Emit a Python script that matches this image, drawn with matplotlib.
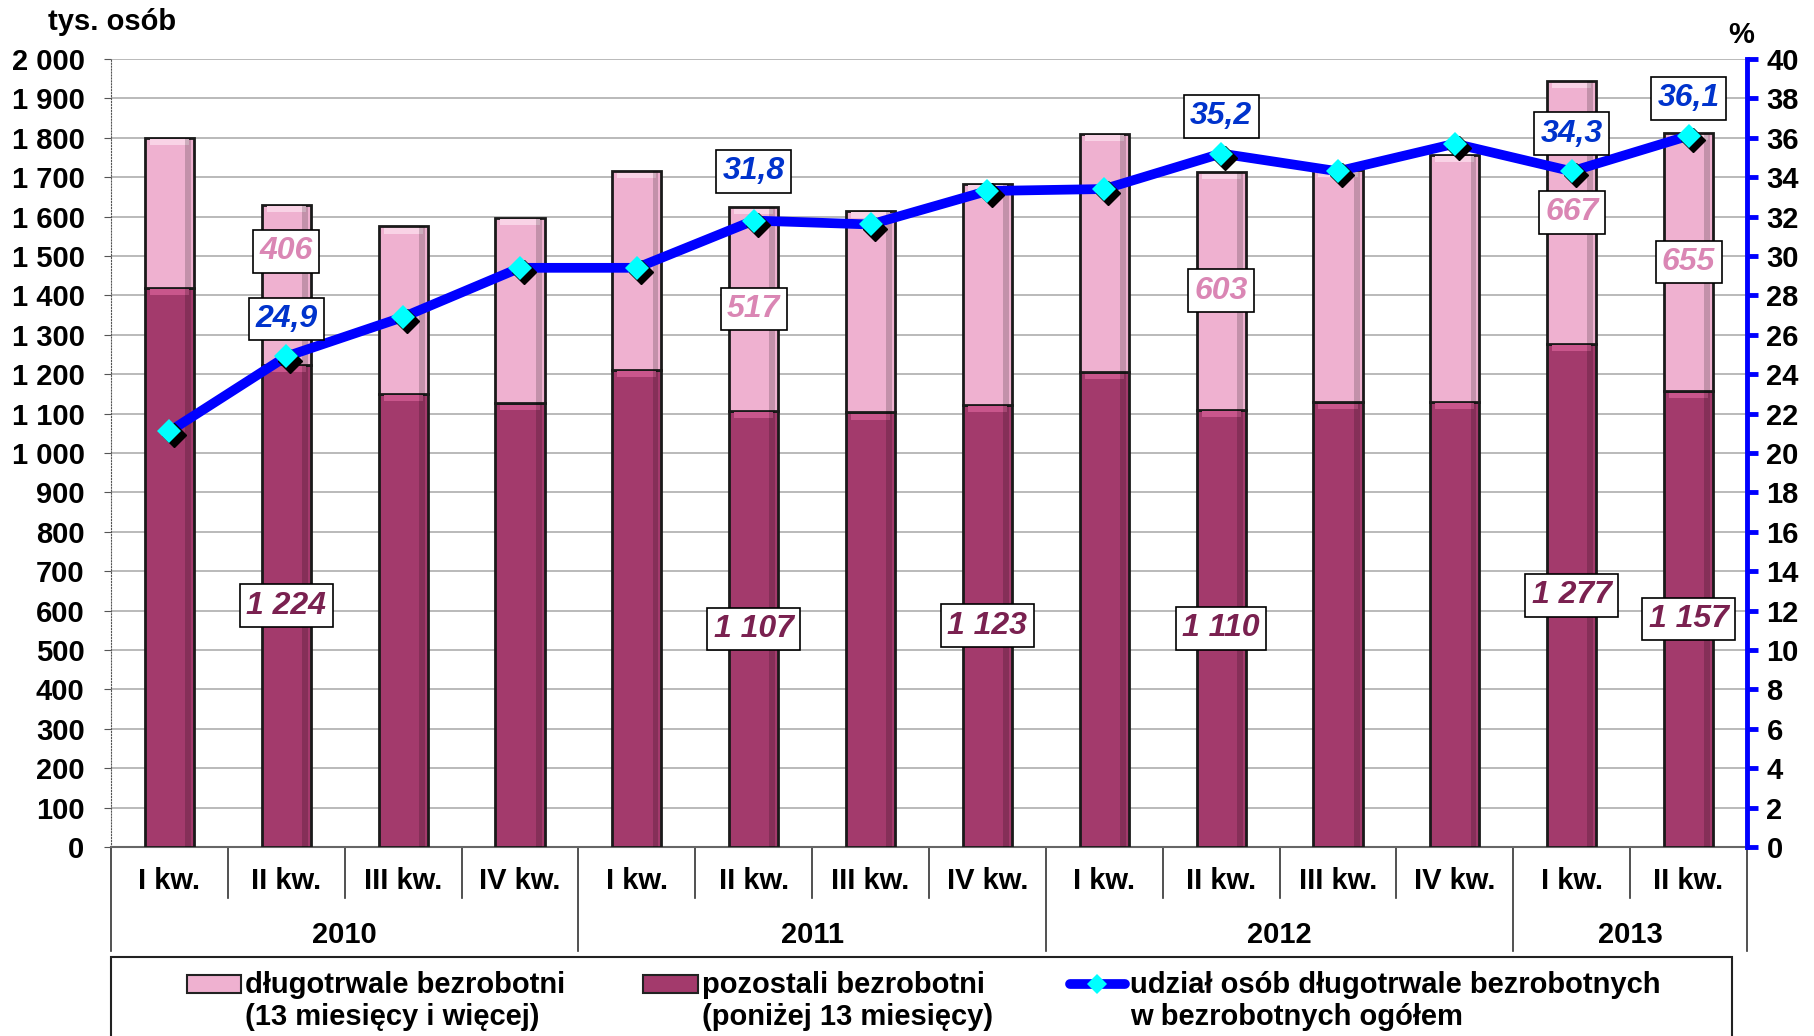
import matplotlib
matplotlib.use("Agg")
import matplotlib.pyplot as plt
from matplotlib.patches import Rectangle
from matplotlib.lines import Line2D
from matplotlib.ticker import FuncFormatter, MultipleLocator
from matplotlib.transforms import offset_copy

plt.rcParams['font.family'] = ['Liberation Sans', 'DejaVu Sans']
plt.rcParams['font.weight'] = 'bold'

# dane (tys. osób, %)
quarters = ['I kw.', 'II kw.', 'III kw.', 'IV kw.',
            'I kw.', 'II kw.', 'III kw.', 'IV kw.',
            'I kw.', 'II kw.', 'III kw.', 'IV kw.',
            'I kw.', 'II kw.']
years = ['2010', '2011', '2012', '2013']
year_len = [4, 4, 4, 2]
pozostali = [1420, 1224, 1151, 1127, 1211, 1107, 1103, 1123, 1205, 1110, 1129, 1130, 1277, 1157]
dlugotrwale = [380, 406, 424, 470, 504, 517, 512, 560, 605, 603, 589, 627, 667, 655]
udzial = [21.1, 24.9, 26.9, 29.4, 29.4, 31.8, 31.6, 33.3, 33.4, 35.2, 34.3, 35.7, 34.3, 36.1]

# which points get value labels
lab_dl = [1, 5, 9, 12, 13]
lab_poz = [1, 5, 7, 9, 12, 13]
lab_ud = [1, 5, 9, 12, 13]

PINK = '#EFB1D0'
DARK = '#A33A6C'
PINK_TXT = '#DA86B4'
DARK_TXT = '#7A2150'
BLUE_TXT = '#0033CC'
FS = 21
LFS = 23

W, H = 1814, 1036
fig = plt.figure(figsize=(W / 100, H / 100), dpi=100)
ax = fig.add_axes([111 / W, 1 - 847 / H, (1747 - 111) / W, (847 - 59) / H])

x = list(range(len(quarters)))
bw = 0.42
ax.bar(x, pozostali, width=bw, color=DARK, edgecolor='#1a1a1a', linewidth=2, zorder=3)
ax.bar(x, dlugotrwale, width=bw, bottom=pozostali, color=PINK, edgecolor='#1a1a1a',
       linewidth=2, zorder=3)
# simple bevel: lighter strip at the top, darker strip on the right side of each segment
tops = [p + d for p, d in zip(pozostali, dlugotrwale)]
ax.bar(x, [14] * len(x), width=bw * 0.8, bottom=[t - 18 for t in tops], color='#F9D3E6',
       linewidth=0, zorder=4)
ax.bar(x, [14] * len(x), width=bw * 0.8, bottom=[p - 18 for p in pozostali], color='#C9568C',
       linewidth=0, zorder=4)
ax.bar([i + bw * 0.38 for i in x], tops, width=bw * 0.12, color='black', alpha=0.18,
       linewidth=0, zorder=4)

ax.set_xlim(-0.5, len(x) - 0.5)
ax.set_ylim(0, 2000)
ax.yaxis.set_major_locator(MultipleLocator(100))
ax.yaxis.set_major_formatter(FuncFormatter(lambda v, p: f'{int(v):,}'.replace(',', ' ')))
ax.grid(axis='y', color='#B4B4B4', linewidth=1.3, zorder=0)
ax.set_axisbelow(True)
ax.tick_params(axis='y', labelsize=FS, length=5, color='#555555', pad=14)
for t in ax.get_yticklabels():
    t.set_fontweight('bold')
ax.set_xticks([])
ax.spines['left'].set_linestyle(':')
ax.spines['left'].set_color('#555555')
ax.spines['top'].set_visible(False)
ax.spines['right'].set_visible(False)
ax.spines['bottom'].set_color('#666666')
ax.spines['bottom'].set_linewidth(1.5)

# category axis with quarters and years
xt = ax.get_xaxis_transform()
for i, q in enumerate(quarters):
    ax.text(i, -0.043, q, transform=xt, ha='center', va='center', fontsize=FS,
            fontweight='bold')
bounds = [-0.5]
for n in year_len:
    bounds.append(bounds[-1] + n)
for b in [i - 0.5 for i in range(len(x) + 1)]:
    low = -0.132 if b in bounds else -0.0647
    ax.plot([b, b], [0, low], transform=xt, color='#333333', linewidth=1.2, clip_on=False)
for j, yr in enumerate(years):
    ax.text((bounds[j] + bounds[j + 1]) / 2, -0.112, yr, transform=xt, ha='center',
            va='center', fontsize=FS, fontweight='bold')

# share line on right axis
ax2 = ax.twinx()
ax2.set_ylim(0, 40)
ax2.yaxis.set_major_locator(MultipleLocator(2))
ax2.plot(x, udzial, color='#0000FF', linewidth=7, zorder=5, solid_joinstyle='round')
shadow = offset_copy(ax2.transData, fig=fig, x=3, y=-3, units='points')
ax2.plot(x, udzial, linestyle='none', marker='D', markersize=12, color='black',
         transform=shadow, zorder=6)
ax2.plot(x, udzial, linestyle='none', marker='D', markersize=12, color='#00FFFF',
         markeredgewidth=0, zorder=7)
for s in ['left', 'top', 'bottom']:
    ax2.spines[s].set_visible(False)
ax2.spines['right'].set_color('#0000FF')
ax2.spines['right'].set_linewidth(3.5)
ax2.tick_params(axis='y', direction='out', length=8, width=3.5, color='#0000FF',
                labelsize=FS, pad=6)
for t in ax2.get_yticklabels():
    t.set_fontweight('bold')

box = dict(boxstyle='square,pad=0.2', fc='white', ec='black', lw=1.2)
ud_off = {1: 1.9, 5: 2.5, 9: 1.9, 12: 1.9, 13: 1.9}
for i in lab_ud:
    ax2.text(i, udzial[i] + ud_off[i], f'{udzial[i]:.1f}'.replace('.', ','), ha='center',
             va='center', fontsize=LFS, fontweight='bold', style='italic', color=BLUE_TXT,
             bbox=box, zorder=9)
dl_off = {1: 85}
for i in lab_dl:
    yv = pozostali[i] + dlugotrwale[i] / 2 + dl_off.get(i, 0)
    ax.text(i, yv, str(dlugotrwale[i]), ha='center', va='center', fontsize=LFS,
            fontweight='bold', style='italic', color=PINK_TXT, bbox=box, zorder=8)
for i in lab_poz:
    ax.text(i, pozostali[i] / 2, f'{pozostali[i]:,}'.replace(',', ' '), ha='center',
            va='center', fontsize=LFS, fontweight='bold', style='italic', color=DARK_TXT,
            bbox=box, zorder=8)

fig.text(48 / W, 1 - 22 / H, 'tys. osób', ha='left', va='center', fontsize=FS,
         fontweight='bold')
fig.text(1741 / W, 1 - 35 / H, '%', ha='center', va='center', fontsize=FS,
         fontweight='bold')

# legend drawn in figure pixels
def fx(px):
    return px / W


def fy(py):
    return 1 - py / H


tf = fig.transFigure
fig.add_artist(Rectangle((fx(111), fy(1040)), fx(1732) - fx(111), fy(957) - fy(1040),
                         transform=tf, fc='white', ec='#222222', lw=1.5))
fig.add_artist(Rectangle((fx(187), fy(993)), fx(241) - fx(187), fy(975) - fy(993),
                         transform=tf, fc=PINK, ec='#222222', lw=1.5))
fig.add_artist(Rectangle((fx(643), fy(993)), fx(698) - fx(643), fy(975) - fy(993),
                         transform=tf, fc=DARK, ec='#222222', lw=1.5))
fig.add_artist(Line2D([fx(1070), fx(1125)], [fy(984), fy(984)], transform=tf,
                      color='#0000FF', linewidth=7, solid_capstyle='round'))
fig.add_artist(Line2D([fx(1097)], [fy(984)], transform=tf, marker='D', markersize=10,
                      color='#00FFFF', markeredgewidth=0))
leg_texts = [(245, 'długotrwale bezrobotni\n(13 miesięcy i więcej)'),
             (702, 'pozostali bezrobotni\n(poniżej 13 miesięcy)'),
             (1130, 'udział osób długotrwale bezrobotnych\nw bezrobotnych ogółem')]
for px, s in leg_texts:
    fig.text(fx(px), fy(1001), s, ha='left', va='center', fontsize=FS, fontweight='bold',
             linespacing=1.15)

fig.savefig('out.png', dpi=100)
